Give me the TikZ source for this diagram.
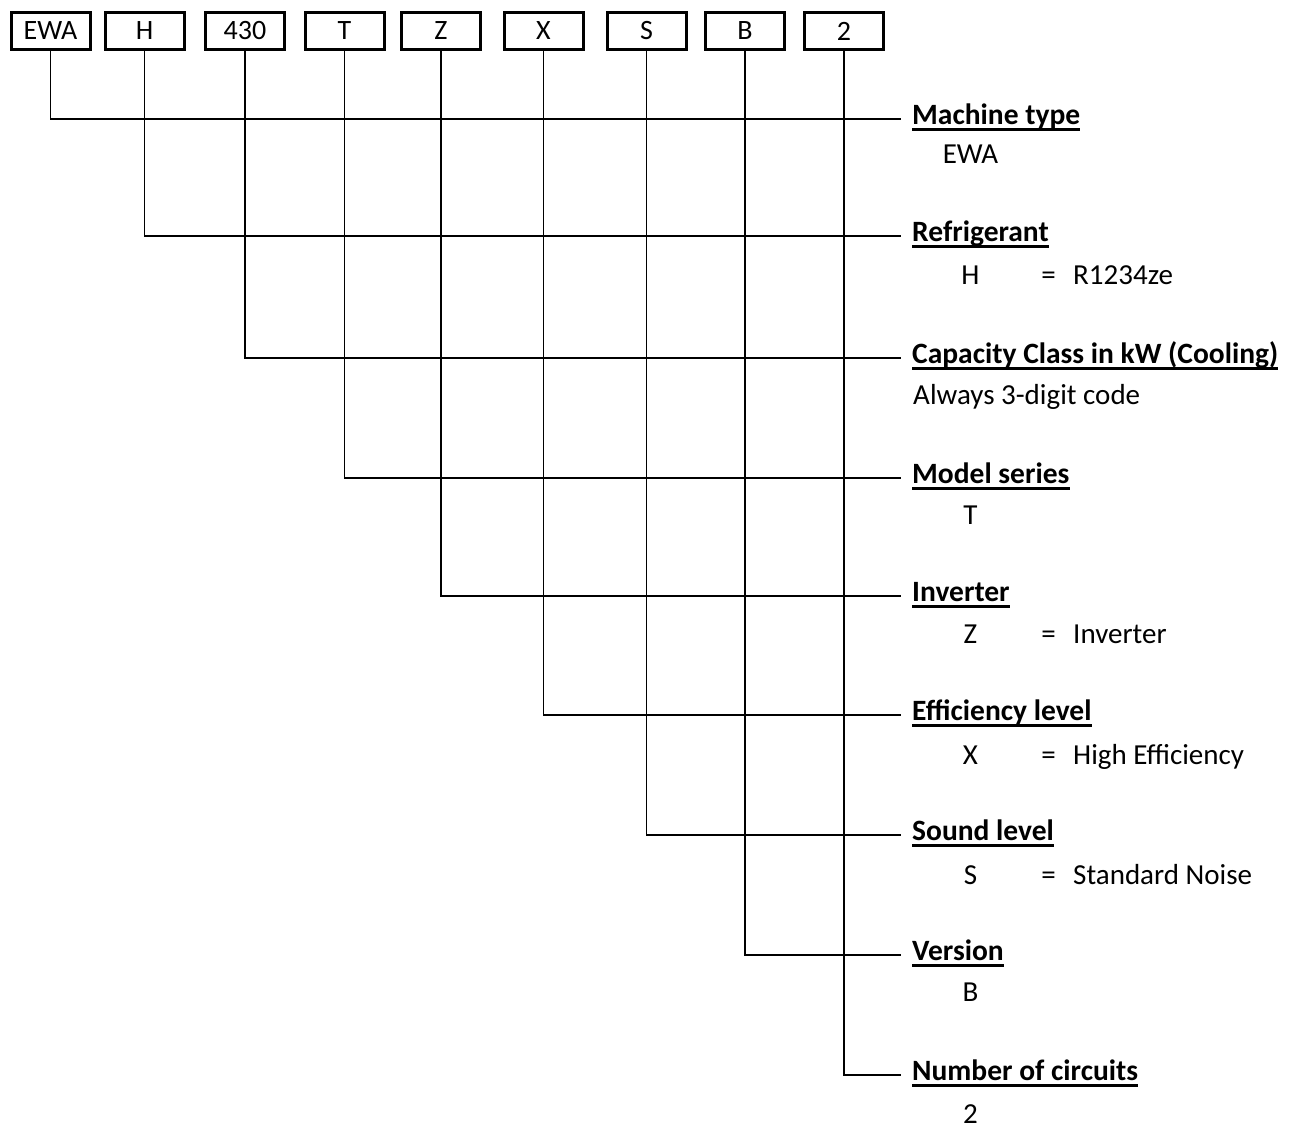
\documentclass[tikz,border=0pt]{standalone}
\usepackage{fontspec}
\setmainfont{Carlito}
\usetikzlibrary{positioning}

\tikzset{
  codebox/.style={draw, line width=3pt, minimum width=79pt, minimum height=37pt,
    inner sep=0pt, font=\fontsize{28}{34}\selectfont},
  lead/.style={line width=1.6pt},
  rule/.style={line width=2.6pt},
  heading/.style={anchor=base west, inner sep=0pt, font=\fontsize{29.5}{35}\selectfont\bfseries},
  detail/.style={anchor=base, inner sep=0pt, font=\fontsize{29}{35}\selectfont},
}

\begin{document}
\begin{tikzpicture}[x=1pt, y=-1pt]
\useasboundingbox (0,0) rectangle (1295,1128);
% code boxes along the top
\foreach \t/\x [count=\i] in {EWA/50.5, H/144.5, 430/245, T/344.5, Z/441, X/543.5, S/646.5, B/745, 2/844}
  \node[codebox] (box\i) at (\x,31) {\t};
\foreach \y/\head [count=\i] in {119/Machine type, 236/Refrigerant, 358/Capacity Class in kW (Cooling),
    478/Model series, 596/Inverter, 715/Efficiency level, 835/Sound level, 955/Version, 1075/Number of circuits}{
  \coordinate (end\i) at (901,\y);
  \draw[lead] (box\i.south) |- (end\i);
  \node[heading] (head\i) at (912,\y+5) {\head};
  \draw[rule] ([yshift=-5.5pt]head\i.base west) -- ([yshift=-5.5pt]head\i.base east);
}
\node[detail] (val1) at (970.5,163) {EWA};
\node[detail, anchor=base west] (val3) at (913,404) {Always 3-digit code};
\foreach \i/\y/\k in {4/524/T, 8/1001/B, 9/1123/2}
  \node[detail] (val\i) at (970.5,\y) {\k};
\foreach \i/\y/\k/\v in {2/284/H/R1234ze, 5/643/Z/Inverter, 6/764/X/High Efficiency, 7/884/S/Standard Noise}{
  \node[detail] (key\i) at (970.5,\y) {\k};
  \node[detail] (eq\i) at (1048.5,\y) {=};
  \node[detail, anchor=base west] (val\i) at (1073,\y) {\v};
}
\end{tikzpicture}
\end{document}
